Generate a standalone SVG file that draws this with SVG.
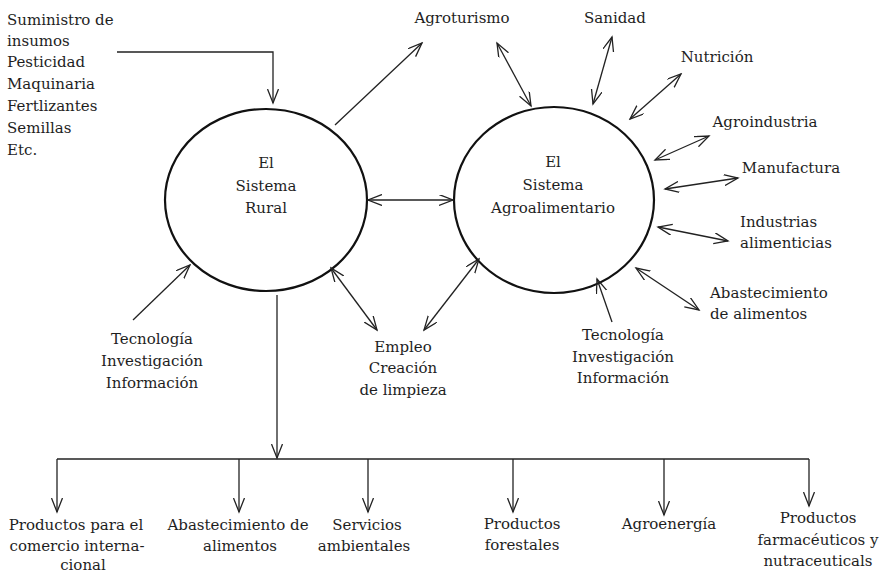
<svg xmlns="http://www.w3.org/2000/svg" width="886" height="575" viewBox="0 0 886 575">
  <style>
    text { font-family: "DejaVu Serif", "Liberation Serif", serif; font-size: 15px; fill: #1e1e1e; }
    .c { text-anchor: middle; }
    .sys { fill: none; stroke: #111; stroke-width: 2.2; }
    .ln { fill: none; stroke: #222; stroke-width: 1.3; }
    .one { marker-end: url(#v); }
    .two { marker-start: url(#v); marker-end: url(#v); }
  </style>
  <defs>
    <marker id="v" viewBox="0 0 16 12" refX="14" refY="5.5" markerWidth="16" markerHeight="12" markerUnits="userSpaceOnUse" orient="auto-start-reverse">
      <path d="M0,0 L14,5.5 L0,11" fill="none" stroke="#222" stroke-width="1.3"/>
    </marker>
  </defs>

  <rect width="886" height="575" fill="#fff"/>

  <!-- main systems -->
  <g id="rural">
    <ellipse class="sys" cx="266" cy="200" rx="101" ry="91"/>
    <text class="c" x="266" y="168">El</text>
    <text class="c" x="266" y="191">Sistema</text>
    <text class="c" x="266" y="213">Rural</text>
  </g>
  <g id="agroalimentario">
    <ellipse class="sys" cx="554" cy="200" rx="100" ry="93"/>
    <text class="c" x="553" y="167">El</text>
    <text class="c" x="553" y="190">Sistema</text>
    <text class="c" x="553" y="213">Agroalimentario</text>
  </g>

  <!-- surrounding labels -->
  <g id="insumos">
    <text x="7" y="25">Suministro de</text>
    <text x="7" y="46">insumos</text>
    <text x="7" y="67">Pesticidad</text>
    <text x="7" y="89">Maquinaria</text>
    <text x="7" y="111">Fertlizantes</text>
    <text x="7" y="133">Semillas</text>
    <text x="7" y="155">Etc.</text>
  </g>
  <g id="agroturismo"><text class="c" x="462" y="23">Agroturismo</text></g>
  <g id="sanidad"><text class="c" x="615" y="23">Sanidad</text></g>
  <g id="nutricion"><text class="c" x="717" y="62">Nutrición</text></g>
  <g id="agroindustria"><text class="c" x="765" y="127">Agroindustria</text></g>
  <g id="manufactura"><text class="c" x="791" y="173">Manufactura</text></g>
  <g id="industrias">
    <text x="740" y="227">Industrias</text>
    <text x="740" y="248">alimenticias</text>
  </g>
  <g id="abastecimiento">
    <text x="710" y="298">Abastecimiento</text>
    <text x="710" y="319">de alimentos</text>
  </g>
  <g id="tecnologia-agro">
    <text class="c" x="623" y="340">Tecnología</text>
    <text class="c" x="623" y="362">Investigación</text>
    <text class="c" x="623" y="383">Información</text>
  </g>
  <g id="tecnologia-rural">
    <text class="c" x="152" y="344">Tecnología</text>
    <text class="c" x="152" y="366">Investigación</text>
    <text class="c" x="152" y="388">Información</text>
  </g>
  <g id="empleo">
    <text class="c" x="403" y="352">Empleo</text>
    <text class="c" x="403" y="373">Creación</text>
    <text class="c" x="403" y="395">de limpieza</text>
  </g>

  <!-- products -->
  <g id="p-comercio">
    <text class="c" x="76" y="530">Productos para el</text>
    <text class="c" x="77" y="551">comercio interna-</text>
    <text class="c" x="83" y="570">cional</text>
  </g>
  <g id="p-abastecimiento">
    <text class="c" x="238" y="530">Abastecimiento de</text>
    <text class="c" x="240" y="551">alimentos</text>
  </g>
  <g id="p-servicios">
    <text class="c" x="367" y="530">Servicios</text>
    <text class="c" x="364" y="551">ambientales</text>
  </g>
  <g id="p-forestales">
    <text class="c" x="522" y="529">Productos</text>
    <text class="c" x="522" y="550">forestales</text>
  </g>
  <g id="p-agroenergia">
    <text class="c" x="669" y="529">Agroenergía</text>
  </g>
  <g id="p-farmaceuticos">
    <text class="c" x="818" y="523">Productos</text>
    <text class="c" x="818" y="545">farmacéuticos y</text>
    <text class="c" x="818" y="566">nutraceuticals</text>
  </g>

  <!-- connectors -->
  <g id="connectors">
    <polyline class="ln one" points="117,52 273,52 273,103"/>
    <line class="ln one" x1="335" y1="125" x2="422" y2="43"/>
    <line class="ln two" x1="368" y1="200" x2="453" y2="200"/>
    <line class="ln two" x1="497" y1="43" x2="531" y2="106"/>
    <line class="ln two" x1="612" y1="37" x2="593" y2="104"/>
    <line class="ln two" x1="681" y1="74" x2="630" y2="119"/>
    <line class="ln two" x1="709" y1="136" x2="655" y2="160"/>
    <line class="ln two" x1="738" y1="178" x2="665" y2="189"/>
    <line class="ln two" x1="728" y1="241" x2="658" y2="227"/>
    <line class="ln two" x1="699" y1="310" x2="636" y2="268"/>
    <line class="ln one" x1="612" y1="322" x2="597" y2="279"/>
    <line class="ln one" x1="133" y1="320" x2="190" y2="265"/>
    <line class="ln two" x1="331" y1="268" x2="377" y2="330"/>
    <line class="ln two" x1="424" y1="330" x2="479" y2="259"/>
    <line class="ln one" x1="277" y1="295" x2="277" y2="458"/>
    <line class="ln" x1="57" y1="459" x2="809" y2="459"/>
    <line class="ln one" x1="57" y1="459" x2="57" y2="512"/>
    <line class="ln one" x1="239" y1="459" x2="239" y2="512"/>
    <line class="ln one" x1="368" y1="459" x2="368" y2="512"/>
    <line class="ln one" x1="513" y1="459" x2="513" y2="512"/>
    <line class="ln one" x1="664" y1="459" x2="664" y2="515"/>
    <line class="ln one" x1="809" y1="459" x2="809" y2="506"/>
  </g>
</svg>
